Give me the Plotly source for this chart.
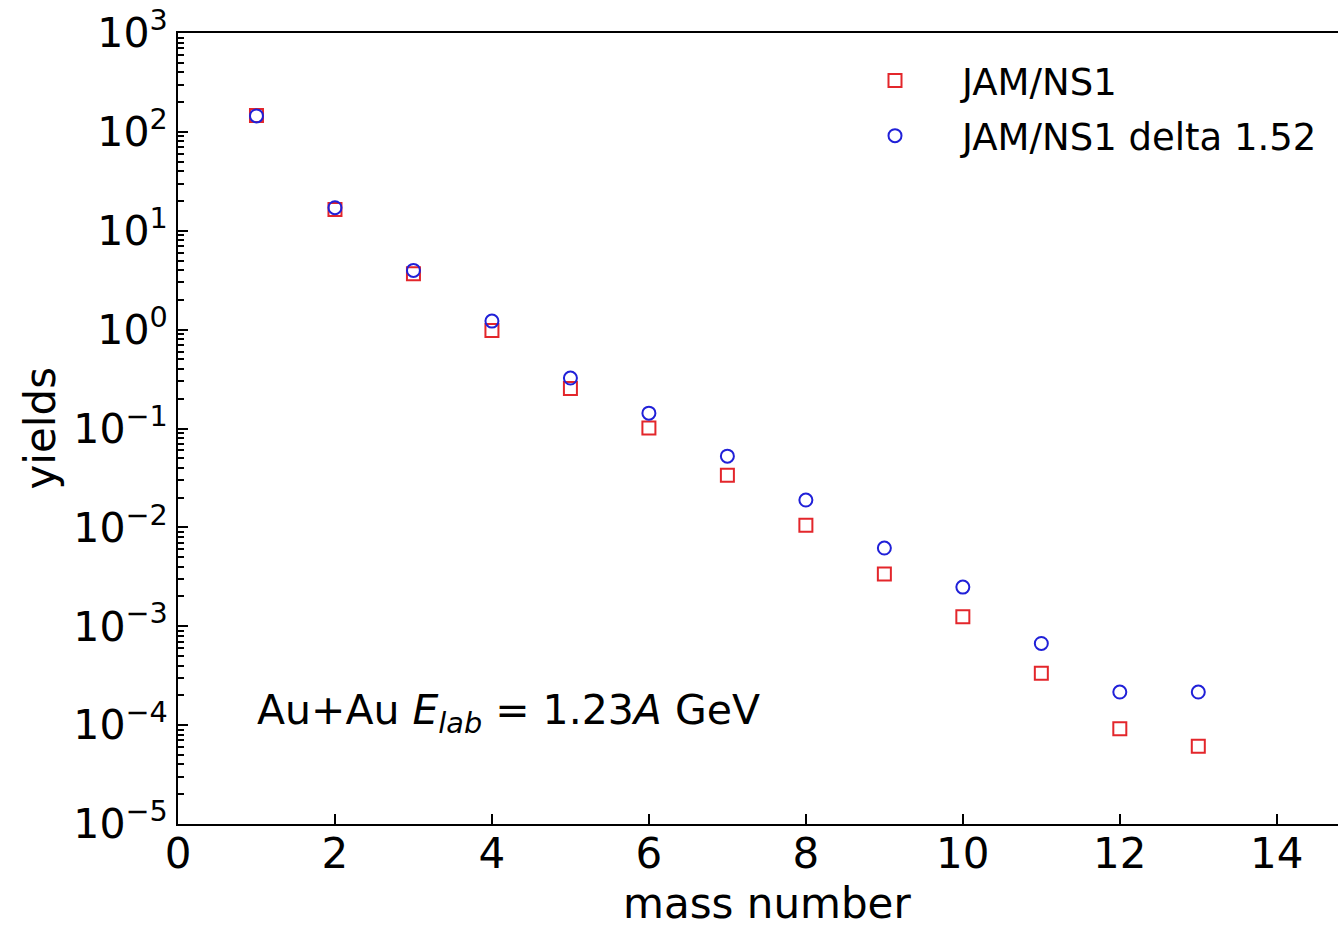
import plotly.graph_objects as go

mass_number = [1, 2, 3, 4, 5, 6, 7, 8, 9, 10, 11, 12, 13]
yields_ns1 = [146, 16.4, 3.68, 0.98, 0.254, 0.101, 0.0337, 0.0105, 0.00337,
              0.00125, 3.35e-4, 9.2e-5, 6.1e-5]
yields_delta = [145, 17.1, 3.97, 1.22, 0.324, 0.143, 0.0525, 0.0189, 0.00618,
                0.00249, 6.7e-4, 2.16e-4, 2.16e-4]

y_tickvals = [1e-5, 1e-4, 1e-3, 1e-2, 1e-1, 1, 10, 100, 1000]
y_ticktext = ["10<sup>\u22125</sup>", "10<sup>\u22124</sup>", "10<sup>\u22123</sup>",
              "10<sup>\u22122</sup>", "10<sup>\u22121</sup>", "10<sup>0</sup>",
              "10<sup>1</sup>", "10<sup>2</sup>", "10<sup>3</sup>"]
y_minor = [k * 10.0 ** e for e in range(-5, 3) for k in range(2, 10)]
x_tickvals = [0, 2, 4, 6, 8, 10, 12, 14]

FONT = "DejaVu Sans"
W, H = 1338, 926
L, R, T, B = 178, 0, 33, 102
PW, PH = W - L - R, H - T - B

fig = go.Figure()
fig.add_trace(go.Scatter(
    x=mass_number, y=yields_ns1, mode="markers", name="JAM/NS1", legendgroup="a",
    marker=dict(symbol="square-open", size=13, color="#e3262b",
                line=dict(width=2, color="#e3262b")),
))
fig.add_trace(go.Scatter(
    x=mass_number, y=yields_delta, mode="markers", name="JAM/NS1 delta 1.52",
    legendgroup="b",
    marker=dict(symbol="circle-open", size=13, color="#2020d8",
                line=dict(width=2, color="#2020d8")),
))

fig.update_layout(
    width=W, height=H,
    margin=dict(l=L, r=R, t=T, b=B, pad=0),
    paper_bgcolor="white", plot_bgcolor="white",
    font=dict(family=FONT, color="black", size=41),
    showlegend=True,
    legend=dict(
        x=(828 - L) / PW, y=((H - B) - 50) / PH, xanchor="left", yanchor="top",
        xref="paper", yref="paper",
        font=dict(family=FONT, size=37, color="black"),
        bgcolor="rgba(0,0,0,0)", itemwidth=124, tracegroupgap=4,
    ),
    xaxis=dict(
        range=[0, 14.78], tickvals=x_tickvals, ticktext=[str(v) for v in x_tickvals],
        ticks="inside", ticklen=10, tickwidth=1.5, tickcolor="black",
        ticklabelstandoff=-8,
        showline=True, linecolor="black", linewidth=2, mirror=True,
        showgrid=False, zeroline=False,
        tickfont=dict(family=FONT, size=42, color="black"),
    ),
    yaxis=dict(
        type="log", range=[-5, 3], tickvals=y_tickvals, ticktext=y_ticktext,
        ticks="inside", ticklen=10, tickwidth=1.5, tickcolor="black",
        minor=dict(tickvals=y_minor, ticks="inside", ticklen=6, tickwidth=1.5,
                   tickcolor="black", showgrid=False),
        showline=True, linecolor="black", linewidth=2, mirror=False,
        showgrid=False, zeroline=False,
        tickfont=dict(family=FONT, size=41, color="black"),
    ),
    annotations=[
        dict(text="mass number", xref="paper", yref="paper",
             x=(767 - L) / PW, y=-(903 - (H - B)) / PH,
             xanchor="center", yanchor="middle", showarrow=False,
             font=dict(family=FONT, size=42, color="black")),
        dict(text="yields", xref="paper", yref="paper",
             x=-(L - 40) / PW, y=0.5, textangle=-90,
             xanchor="center", yanchor="middle", showarrow=False,
             font=dict(family=FONT, size=42, color="black")),
        dict(text="Au+Au <i>E</i><sub><i>lab</i></sub> = 1.23<i>A</i> GeV",
             xref="paper", yref="paper",
             x=(255 - L) / PW, y=((H - B) - 713) / PH,
             xanchor="left", yanchor="middle", showarrow=False,
             font=dict(family=FONT, size=41, color="black")),
    ],
)

fig.write_html("out.html")
